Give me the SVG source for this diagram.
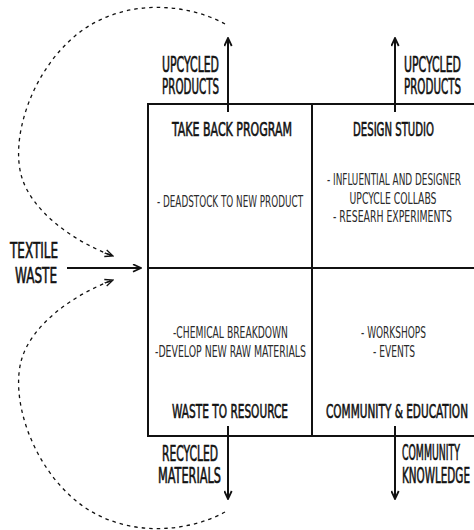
<svg xmlns="http://www.w3.org/2000/svg" width="474" height="530" viewBox="0 0 474 530">
  <defs>
    <style>
      .frame { fill: none; stroke: #111; stroke-width: 2; }
      .flow { fill: none; stroke: #111; stroke-width: 2; }
      .loop { fill: none; stroke: #111; stroke-width: 1.3; stroke-dasharray: 3.5 4; }
      text { font-family: "DejaVu Sans Condensed", "Liberation Sans Narrow", "Liberation Sans", sans-serif; font-stretch: condensed; fill: #111; }
      .big { font-size: 20.5px; stroke: #111; stroke-width: 0.6; }
      .head { font-size: 19.5px; text-anchor: middle; stroke: #111; stroke-width: 0.6; }
      .body { font-size: 15px; text-anchor: middle; fill: #2a2a2a; }
      .mid { text-anchor: middle; }
      .rt { text-anchor: end; }
    </style>
    <marker id="head" viewBox="0 0 10 9" refX="9" refY="4.5" markerWidth="10" markerHeight="9" markerUnits="userSpaceOnUse" orient="auto">
      <path d="M1,0.8 L9,4.5 L1,8.2" fill="none" stroke="#111" stroke-width="1.8"/>
    </marker>
    <marker id="headDash" viewBox="0 0 10 9" refX="9" refY="4.5" markerWidth="10" markerHeight="9" markerUnits="userSpaceOnUse" orient="auto">
      <path d="M1,1 L9,4.5 L1,8 M0,4.5 L9,4.5" fill="none" stroke="#111" stroke-width="1.3"/>
    </marker>
  </defs>

  <rect width="474" height="530" fill="#fff"/>

  <!-- outer frame and dividers of the 2x2 grid -->
  <g id="grid">
    <rect class="frame" x="148" y="104" width="340" height="332"/>
    <line class="frame" x1="312" y1="104" x2="312" y2="436"/>
    <line class="frame" x1="148" y1="268" x2="474" y2="268"/>
  </g>

  <!-- labels are narrowed with a horizontal scale to a tall condensed look -->
  <g id="take-back-program">
    <text class="head" transform="translate(232,136) scale(0.619,1)" textLength="193.8" lengthAdjust="spacingAndGlyphs">TAKE BACK PROGRAM</text>
    <text class="body" transform="translate(230,206.5) scale(0.654,1)" textLength="223.3" lengthAdjust="spacingAndGlyphs">- DEADSTOCK TO NEW PRODUCT</text>
  </g>

  <g id="design-studio">
    <text class="head" transform="translate(393.5,136) scale(0.524,1)" textLength="154.5" lengthAdjust="spacingAndGlyphs">DESIGN STUDIO</text>
    <text class="body" transform="translate(394,185) scale(0.656,1)" textLength="204.3" lengthAdjust="spacingAndGlyphs">- INFLUENTIAL AND DESIGNER</text>
    <text class="body" transform="translate(393,203.5) scale(0.682,1)" textLength="127.6" lengthAdjust="spacingAndGlyphs">UPCYCLE COLLABS</text>
    <text class="body" transform="translate(392.5,222) scale(0.691,1)" textLength="172.2" lengthAdjust="spacingAndGlyphs">- RESEARH EXPERIMENTS</text>
  </g>

  <g id="waste-to-resource">
    <text class="body" transform="translate(230.5,338) scale(0.681,1)" textLength="168.8" lengthAdjust="spacingAndGlyphs">-CHEMICAL BREAKDOWN</text>
    <text class="body" transform="translate(230.5,357) scale(0.683,1)" textLength="221" lengthAdjust="spacingAndGlyphs">-DEVELOP NEW RAW MATERIALS</text>
    <text class="head" transform="translate(230,417.5) scale(0.596,1)" textLength="194.6" lengthAdjust="spacingAndGlyphs">WASTE TO RESOURCE</text>
  </g>

  <g id="community-education">
    <text class="body" transform="translate(393.5,338) scale(0.667,1)" textLength="97.4" lengthAdjust="spacingAndGlyphs">- WORKSHOPS</text>
    <text class="body" transform="translate(394,357) scale(0.673,1)" textLength="62.4" lengthAdjust="spacingAndGlyphs">- EVENTS</text>
    <text class="head" transform="translate(397,417.5) scale(0.596,1)" textLength="238.3" lengthAdjust="spacingAndGlyphs">COMMUNITY &amp; EDUCATION</text>
  </g>

  <g id="textile-waste">
    <text class="big mid" transform="translate(34,258) scale(0.663,1)" textLength="72.4" lengthAdjust="spacingAndGlyphs">TEXTILE</text>
    <text class="big mid" transform="translate(36,283) scale(0.657,1)" textLength="63.9" lengthAdjust="spacingAndGlyphs">WASTE</text>
  </g>

  <g id="outputs">
    <text class="big rt" transform="translate(219,72) scale(0.597,1)" textLength="95.4" lengthAdjust="spacingAndGlyphs">UPCYCLED</text>
    <text class="big rt" transform="translate(219,94) scale(0.572,1)" textLength="99.6" lengthAdjust="spacingAndGlyphs">PRODUCTS</text>
    <text class="big" transform="translate(404,72) scale(0.597,1)" textLength="95.4" lengthAdjust="spacingAndGlyphs">UPCYCLED</text>
    <text class="big" transform="translate(404,94) scale(0.572,1)" textLength="99.6" lengthAdjust="spacingAndGlyphs">PRODUCTS</text>
    <text class="big mid" transform="translate(190,460.5) scale(0.588,1)" textLength="95.3" lengthAdjust="spacingAndGlyphs">RECYCLED</text>
    <text class="big mid" transform="translate(189.5,482.5) scale(0.619,1)" textLength="101.8" lengthAdjust="spacingAndGlyphs">MATERIALS</text>
    <text class="big" transform="translate(402,460) scale(0.519,1)" textLength="111.7" lengthAdjust="spacingAndGlyphs">COMMUNITY</text>
    <text class="big" transform="translate(402,483) scale(0.577,1)" textLength="117.8" lengthAdjust="spacingAndGlyphs">KNOWLEDGE</text>
  </g>

  <g id="connectors">
    <line class="flow" x1="67" y1="268" x2="141" y2="268" marker-end="url(#head)"/>
    <line class="flow" x1="228" y1="112" x2="228" y2="38" marker-end="url(#head)"/>
    <line class="flow" x1="395" y1="112" x2="395" y2="38" marker-end="url(#head)"/>
    <line class="flow" x1="228" y1="426" x2="228" y2="499" marker-end="url(#head)"/>
    <line class="flow" x1="395" y1="426" x2="395" y2="499" marker-end="url(#head)"/>
    <!-- dashed return loops back into the input -->
    <path class="loop" d="M225,24 C185,2 120,-2 75,36 C30,74 10,140 22,178 C32,210 70,240 113,256" marker-end="url(#headDash)"/>
    <path class="loop" d="M225,512 C185,534 120,538 75,500 C30,462 10,396 22,358 C32,326 70,296 113,280" marker-end="url(#headDash)"/>
  </g>
</svg>
